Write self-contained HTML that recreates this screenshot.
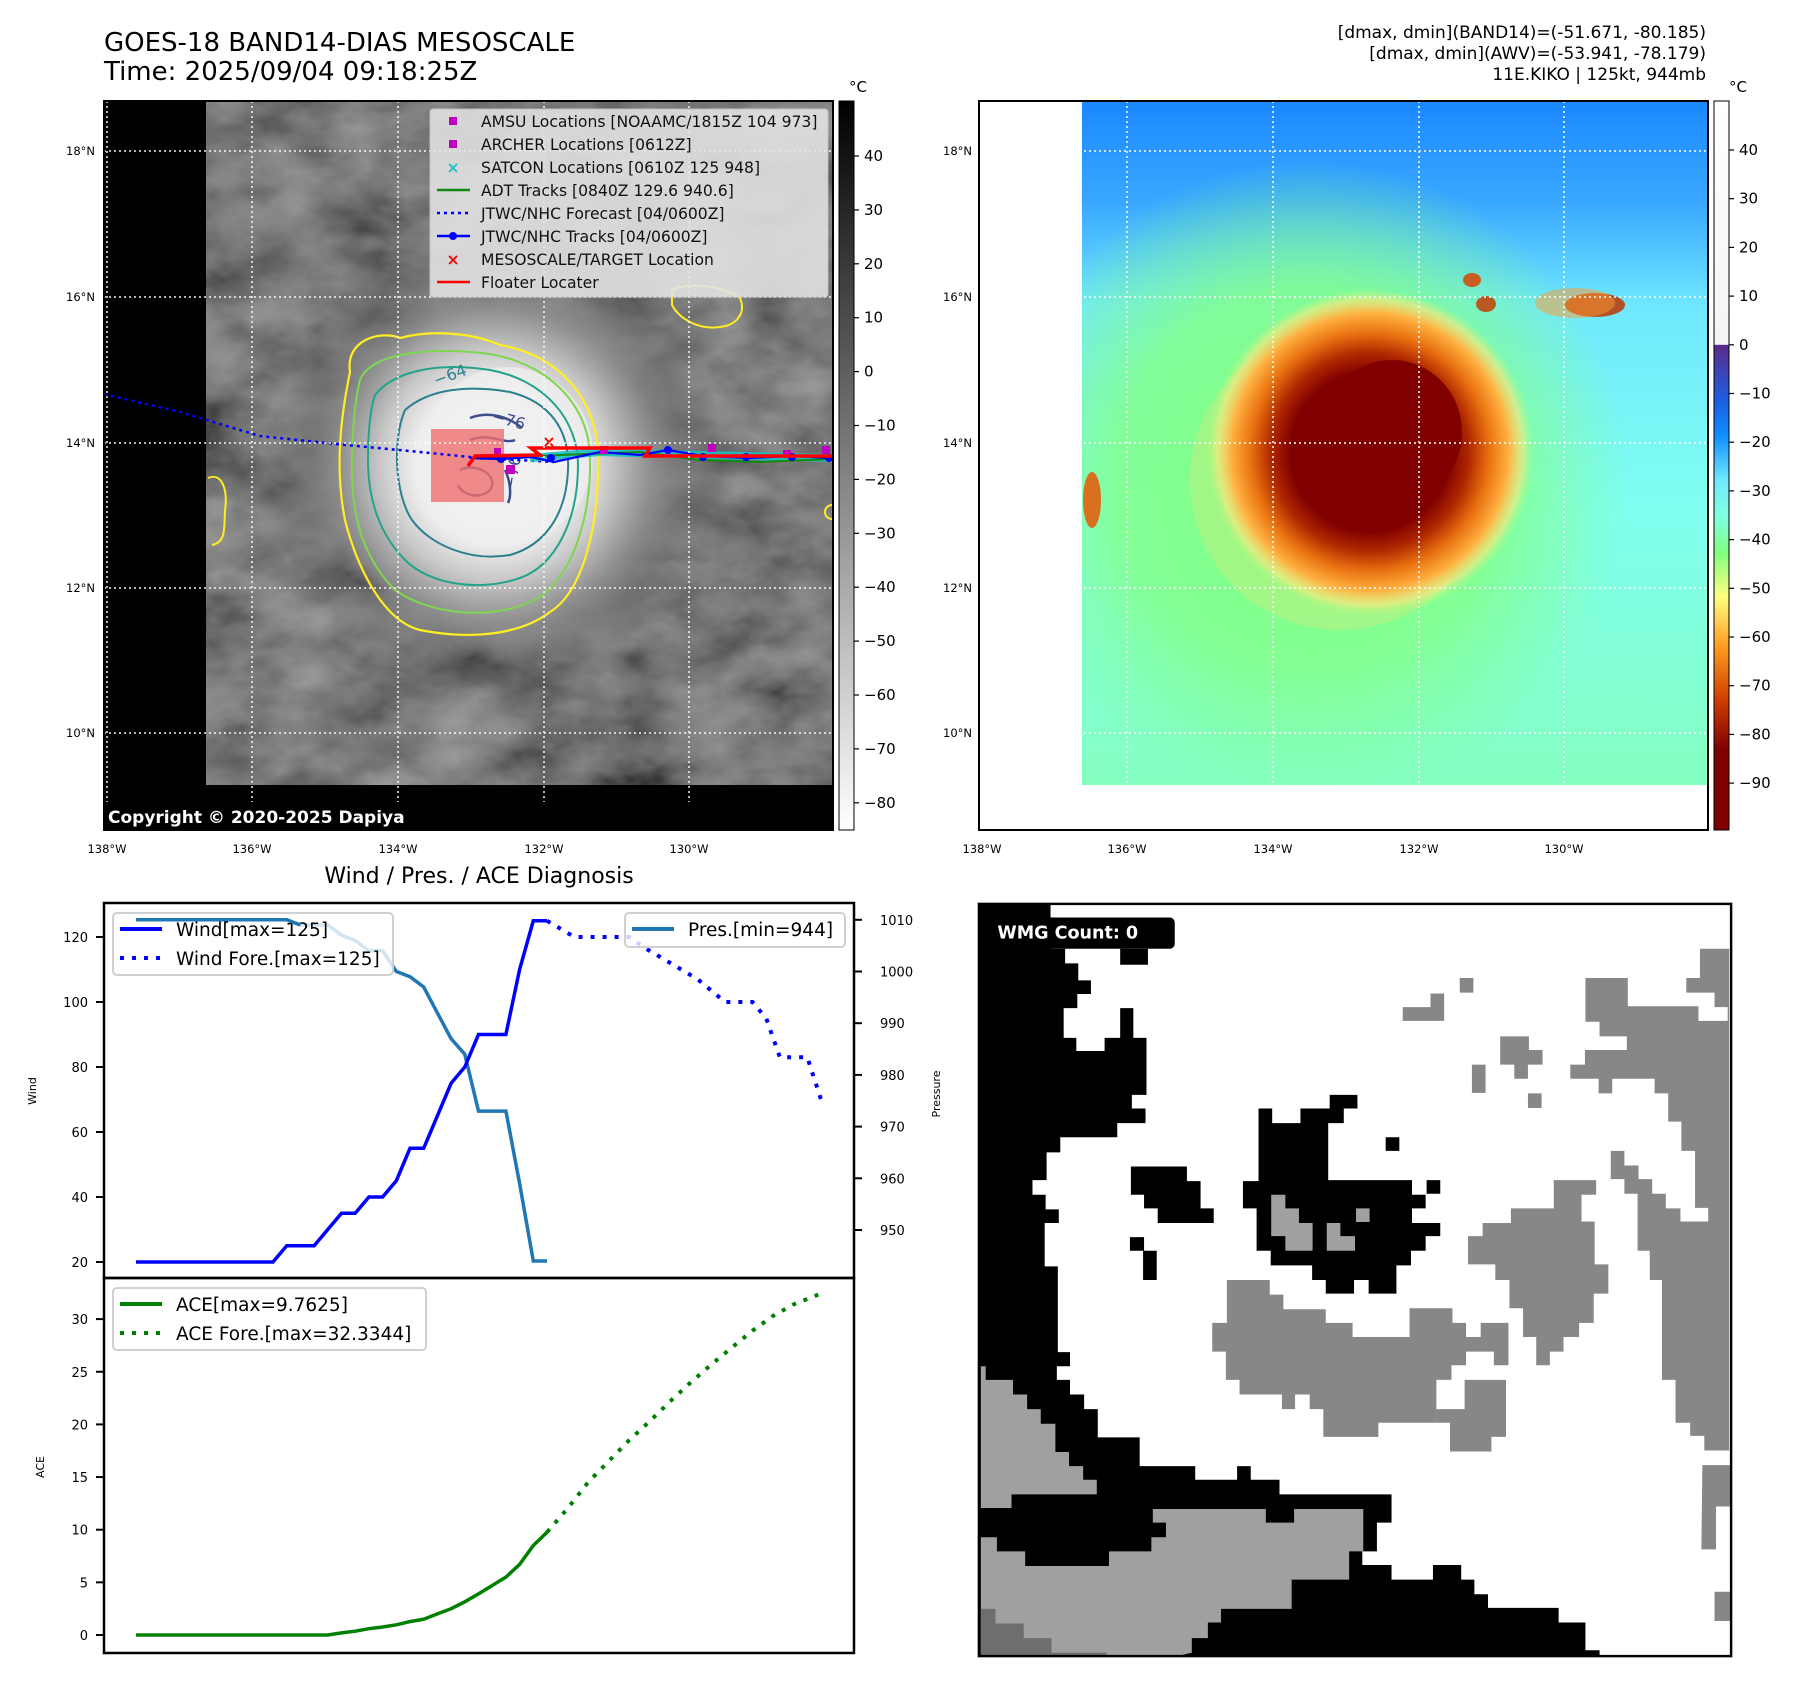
<!DOCTYPE html>
<html><head><meta charset="utf-8">
<style>
html,body{margin:0;padding:0;background:#fff;}
svg{display:block;font-family:"DejaVu Sans","Liberation Sans",sans-serif;}
</style></head>
<body>
<svg id="root" width="1797" height="1690" viewBox="0 0 1797 1690" xmlns="http://www.w3.org/2000/svg">
<defs>
  <filter id="grayNoise" x="0" y="0" width="1" height="1">
    <feTurbulence type="fractalNoise" baseFrequency="0.012 0.02" numOctaves="4" seed="7" result="n"/>
    <feColorMatrix type="matrix" values="0.33 0.33 0.33 0 0  0.33 0.33 0.33 0 0  0.33 0.33 0.33 0 0  0 0 0 0 1"/>
    <feComponentTransfer><feFuncR type="linear" slope="1.0" intercept="-0.25"/><feFuncG type="linear" slope="1.0" intercept="-0.25"/><feFuncB type="linear" slope="1.0" intercept="-0.25"/></feComponentTransfer>
  </filter>
  <radialGradient id="stormGray" cx="495" cy="465" r="230" gradientUnits="userSpaceOnUse">
    <stop offset="0" stop-color="#f6f6f6"/>
    <stop offset="0.35" stop-color="#eeeeee"/>
    <stop offset="0.5" stop-color="#c8c8c8"/>
    <stop offset="0.68" stop-color="#909090" stop-opacity="0.9"/>
    <stop offset="0.85" stop-color="#707070" stop-opacity="0.4"/>
    <stop offset="1" stop-color="#606060" stop-opacity="0"/>
  </radialGradient>
  <linearGradient id="rightBg" x1="0" y1="0" x2="0" y2="1">
    <stop offset="0" stop-color="#1a88ff"/>
    <stop offset="0.15" stop-color="#3aa8ff"/>
    <stop offset="0.3" stop-color="#70e8ff"/>
    <stop offset="0.6" stop-color="#80fff0"/>
    <stop offset="1" stop-color="#84ffc0"/>
  </linearGradient>
  <radialGradient id="greenGlow" cx="1310" cy="480" r="320" gradientUnits="userSpaceOnUse">
    <stop offset="0" stop-color="#80ff80"/>
    <stop offset="0.6" stop-color="#84ff88" stop-opacity="0.85"/>
    <stop offset="1" stop-color="#84ff90" stop-opacity="0"/>
  </radialGradient>
  <radialGradient id="stormColor" cx="1370" cy="452" r="165" gradientUnits="userSpaceOnUse">
    <stop offset="0" stop-color="#800000"/>
    <stop offset="0.48" stop-color="#800000"/>
    <stop offset="0.6" stop-color="#b02800"/>
    <stop offset="0.72" stop-color="#e87010"/>
    <stop offset="0.84" stop-color="#ffb040"/>
    <stop offset="0.93" stop-color="#ffe880" stop-opacity="0.6"/>
    <stop offset="1" stop-color="#a0ff80" stop-opacity="0"/>
  </radialGradient>
  <linearGradient id="cbGray" x1="0" y1="0" x2="0" y2="1">
    <stop offset="0" stop-color="#000"/><stop offset="1" stop-color="#fff"/>
  </linearGradient>
  <linearGradient id="cbColor" x1="0" y1="0" x2="0" y2="1">
    <stop offset="0" stop-color="#ffffff"/>
    <stop offset="0.334" stop-color="#f4f4f4"/>
    <stop offset="0.335" stop-color="#5a2a8a"/>
    <stop offset="0.41" stop-color="#1e5ee0"/>
    <stop offset="0.46" stop-color="#1090ff"/>
    <stop offset="0.52" stop-color="#70e8ff"/>
    <stop offset="0.57" stop-color="#80ffe0"/>
    <stop offset="0.62" stop-color="#80ff80"/>
    <stop offset="0.68" stop-color="#ffff80"/>
    <stop offset="0.75" stop-color="#ff9a20"/>
    <stop offset="0.82" stop-color="#d04000"/>
    <stop offset="0.89" stop-color="#800000"/>
    <stop offset="1" stop-color="#800000"/>
  </linearGradient>
  <clipPath id="leftClip"><rect x="104" y="101" width="729" height="729"/></clipPath>
  <clipPath id="rightClip"><rect x="979" y="101" width="729" height="729"/></clipPath>
</defs>

<!-- Titles -->
<text x="104" y="51" font-size="26">GOES-18 BAND14-DIAS MESOSCALE</text>
<text x="104" y="80" font-size="26">Time: 2025/09/04 09:18:25Z</text>
<g font-size="17" text-anchor="end">
  <text x="1706" y="38">[dmax, dmin](BAND14)=(-51.671, -80.185)</text>
  <text x="1706" y="59">[dmax, dmin](AWV)=(-53.941, -78.179)</text>
  <text x="1706" y="80">11E.KIKO | 125kt, 944mb</text>
</g>

<!-- LEFT MAP -->
<g id="leftMap" clip-path="url(#leftClip)">
  <rect x="104" y="101" width="729" height="729" fill="#000"/>
  <rect x="206" y="101" width="626" height="684" fill="#3a3a3a"/>
  <rect x="206" y="101" width="626" height="684" filter="url(#grayNoise)" opacity="0.8"/>
  <ellipse cx="495" cy="470" rx="240" ry="240" fill="url(#stormGray)"/>
  <ellipse cx="508" cy="455" rx="85" ry="88" fill="#f0f0f0" opacity="0.7"/>
  <!-- contours -->
  <path d="M350,372 C345,340 380,330 400,338 C430,330 470,332 500,345 C560,355 595,400 598,450 C600,520 585,590 550,612 C520,635 470,640 420,630 C380,620 355,560 345,520 C335,470 340,420 350,372 Z" fill="none" stroke="#ffee22" stroke-width="2.2"/>
  <path d="M360,380 C370,355 420,348 470,352 C540,355 588,400 590,455 C592,520 570,585 530,602 C490,620 430,615 395,590 C365,560 352,520 352,470 C352,430 355,400 360,380 Z" fill="none" stroke="#7ed650" stroke-width="2"/>
  <path d="M375,395 C395,370 440,362 490,370 C545,380 578,420 578,465 C578,520 556,565 520,578 C480,592 430,585 405,560 C380,535 368,500 368,460 C368,430 370,410 375,395 Z" fill="none" stroke="#23a48a" stroke-width="2"/>
  <path d="M405,410 C430,388 470,385 510,392 C550,402 570,430 568,470 C566,515 545,545 510,555 C470,562 430,545 412,520 C395,495 392,440 405,410 Z" fill="none" stroke="#2c7f8e" stroke-width="2"/>
  <path d="M470,418 C490,410 510,418 522,428 M470,440 C490,432 505,445 515,440 M460,470 C475,462 500,475 490,490 C480,500 462,495 458,485 M505,470 C510,480 512,495 508,503" fill="none" stroke="#3b4d8c" stroke-width="2.5"/>
  <path d="M672,290 C690,282 720,285 740,298 C746,312 738,325 720,327 C700,330 680,320 672,305 Z" fill="none" stroke="#ffee22" stroke-width="2"/>
  <path d="M208,478 C222,472 228,490 225,510 C224,530 226,542 212,545" fill="none" stroke="#ffee22" stroke-width="2"/>
  <circle cx="832" cy="512" r="7" fill="none" stroke="#ffee22" stroke-width="2"/>
  <text x="436" y="386" font-size="16" fill="#2c7f8e" transform="rotate(-20 436 386)">−64</text>
  <text x="491" y="421" font-size="16" fill="#3b4d8c" transform="rotate(15 491 421)">−76</text>
  <text x="515" y="490" font-size="16" fill="#3b4d8c" transform="rotate(-80 515 490)">−76</text>
  <rect x="431" y="429" width="73" height="73" fill="#f07070" opacity="0.8"/>
  <polyline points="104,394 180,412 260,436 346,445 420,452 480,458 554,462" fill="none" stroke="#0000ff" stroke-width="2.5" stroke-dasharray="3 4"/>
  <path d="M530,458 L600,452 L700,455 L832,458" stroke="#19c0c0" stroke-width="8" fill="none" opacity="0.9"/>
  <path d="M480,459 L560,455 L640,452 L700,460 L760,462 L832,459" stroke="#118811" stroke-width="2" fill="none"/>
  <polyline points="470,458 500,459 531,457 554,462 600,452 640,455 668,450 703,456 750,458 792,456 832,458" fill="none" stroke="#0000ff" stroke-width="2.2"/>
  <g fill="#0000ff"><circle cx="501" cy="459" r="4"/><circle cx="551" cy="458" r="4"/><circle cx="668" cy="450" r="4"/><circle cx="703" cy="457" r="4"/><circle cx="746" cy="457" r="4"/><circle cx="792" cy="457" r="4"/><circle cx="829" cy="458" r="4"/></g>
  <g fill="#c000c0"><rect x="506" y="465" width="9" height="9"/><rect x="494" y="448" width="7" height="7"/><rect x="600" y="446" width="8" height="8"/><rect x="708" y="444" width="8" height="8"/><rect x="822" y="446" width="8" height="8"/><rect x="783" y="450" width="8" height="8"/></g>
  <polyline points="468,466 475,456 540,455 531,448 570,448 650,448 645,456 832,456" fill="none" stroke="#ff0000" stroke-width="3.5"/>
  <text x="549" y="447" font-size="16" font-weight="bold" fill="#ff0000" text-anchor="middle">×</text>
  <g stroke="#fff" stroke-width="1.5" stroke-dasharray="2 3" opacity="0.95">
    <line x1="107" y1="101" x2="107" y2="830"/><line x1="252" y1="101" x2="252" y2="830"/><line x1="398" y1="101" x2="398" y2="830"/><line x1="544" y1="101" x2="544" y2="830"/><line x1="689" y1="101" x2="689" y2="830"/>
    <line x1="104" y1="151" x2="833" y2="151"/><line x1="104" y1="297" x2="833" y2="297"/><line x1="104" y1="443" x2="833" y2="443"/><line x1="104" y1="588" x2="833" y2="588"/><line x1="104" y1="733" x2="833" y2="733"/>
  </g>
  <rect x="104" y="802" width="729" height="28" fill="#000"/>
  <text x="108" y="823" font-size="17" font-weight="bold" fill="#fff">Copyright © 2020-2025 Dapiya</text>
  <g>
    <rect x="430" y="109" width="398" height="188" rx="3" fill="#e4e4e4" opacity="0.88" stroke="#ccc"/>
    <g font-size="15.6" fill="#111">
      <rect x="449" y="117" width="8" height="8" fill="#c000c0"/><text x="481" y="127">AMSU Locations [NOAAMC/1815Z 104 973]</text>
      <rect x="449" y="140" width="8" height="8" fill="#c000c0"/><text x="481" y="150">ARCHER Locations [0612Z]</text>
      <text x="453" y="173" fill="#19c0c0" text-anchor="middle" font-weight="bold">×</text><text x="481" y="173">SATCON Locations [0610Z 125 948]</text>
      <line x1="437" y1="190" x2="470" y2="190" stroke="#118811" stroke-width="2.5"/><text x="481" y="196">ADT Tracks [0840Z 129.6 940.6]</text>
      <line x1="437" y1="213" x2="470" y2="213" stroke="#0000ff" stroke-width="2.5" stroke-dasharray="3 4"/><text x="481" y="219">JTWC/NHC Forecast [04/0600Z]</text>
      <line x1="437" y1="236" x2="470" y2="236" stroke="#0000ff" stroke-width="2.5"/><circle cx="453" cy="236" r="4" fill="#0000ff"/><text x="481" y="242">JTWC/NHC Tracks [04/0600Z]</text>
      <text x="453" y="265" fill="#ff0000" text-anchor="middle" font-weight="bold">×</text><text x="481" y="265">MESOSCALE/TARGET Location</text>
      <line x1="437" y1="282" x2="470" y2="282" stroke="#ff0000" stroke-width="2.5"/><text x="481" y="288">Floater Locater</text>
    </g>
  </g>
</g>
<rect x="104" y="101" width="729" height="729" fill="none" stroke="#000" stroke-width="2"/>

<g>
  <rect x="839" y="101" width="15" height="729" fill="url(#cbGray)" stroke="#000" stroke-width="1"/>
  <text x="858" y="92" font-size="15" text-anchor="middle">°C</text>
  <g id="lcbTicks" font-size="15"></g>
</g>

<!-- RIGHT MAP -->
<g clip-path="url(#rightClip)">
  <rect x="979" y="101" width="729" height="729" fill="#fff"/>
  <rect x="1082" y="101" width="626" height="684" fill="url(#rightBg)"/>
  <rect x="1082" y="101" width="626" height="684" fill="url(#greenGlow)"/>
  <ellipse cx="1340" cy="480" rx="150" ry="150" fill="#ffe070" opacity="0.25"/>
  <ellipse cx="1370" cy="456" rx="165" ry="165" fill="url(#stormColor)"/>
  <ellipse cx="1392" cy="432" rx="70" ry="72" fill="#800000"/>
  <ellipse cx="1486" cy="304" rx="10" ry="8" fill="#c04810" opacity="0.9"/>
  <ellipse cx="1595" cy="305" rx="30" ry="12" fill="#b84010" opacity="0.9"/>
  <ellipse cx="1575" cy="303" rx="40" ry="15" fill="#ff9a30" opacity="0.5"/>
  <ellipse cx="1092" cy="500" rx="9" ry="28" fill="#e06010" opacity="0.9"/>
  <ellipse cx="1472" cy="280" rx="9" ry="7" fill="#d05010" opacity="0.9"/>
  <g stroke="#fff" stroke-width="1.5" stroke-dasharray="2 3">
    <line x1="1127" y1="101" x2="1127" y2="830"/><line x1="1273" y1="101" x2="1273" y2="830"/><line x1="1419" y1="101" x2="1419" y2="830"/><line x1="1564" y1="101" x2="1564" y2="830"/>
    <line x1="979" y1="151" x2="1708" y2="151"/><line x1="979" y1="297" x2="1708" y2="297"/><line x1="979" y1="443" x2="1708" y2="443"/><line x1="979" y1="588" x2="1708" y2="588"/><line x1="979" y1="733" x2="1708" y2="733"/>
  </g>
</g>
<rect x="979" y="101" width="729" height="729" fill="none" stroke="#000" stroke-width="2"/>

<g>
  <rect x="1714" y="101" width="15" height="729" fill="url(#cbColor)" stroke="#000" stroke-width="1"/>
  <text x="1738" y="92" font-size="15" text-anchor="middle">°C</text>
  <g id="rcbTicks" font-size="15"></g>
</g>

<g font-size="11.5">
  <g text-anchor="end"><text x="95" y="155">18°N</text><text x="95" y="301">16°N</text><text x="95" y="447">14°N</text><text x="95" y="592">12°N</text><text x="95" y="737">10°N</text>
  <text x="972" y="155">18°N</text><text x="972" y="301">16°N</text><text x="972" y="447">14°N</text><text x="972" y="592">12°N</text><text x="972" y="737">10°N</text></g>
  <g text-anchor="middle"><text x="107" y="853">138°W</text><text x="252" y="853">136°W</text><text x="398" y="853">134°W</text><text x="544" y="853">132°W</text><text x="689" y="853">130°W</text>
  <text x="982" y="853">138°W</text><text x="1127" y="853">136°W</text><text x="1273" y="853">134°W</text><text x="1419" y="853">132°W</text><text x="1564" y="853">130°W</text></g>
</g>

<text x="479" y="883" font-size="22" text-anchor="middle">Wind / Pres. / ACE Diagnosis</text>
<g id="chart"></g>

<g transform="translate(975,900) scale(0.48718)">
  <rect x="8" y="8" width="1544" height="1544" fill="#fff"/>
  <path fill="#000" d="M8,8 L155,8 L155,100 L185,100 L185,130 L212,130 L212,165 L238,165 L238,193 L210,193 L210,222 L182,222 L182,283 L208,283 L208,310 L266,310 L266,283 L298,283 L298,222 L325,222 L325,283 L352,283 L352,400 L322,400 L322,428 L350,428 L350,458 L292,458 L292,487 L175,487 L175,518 L147,518 L147,575 L118,575 L118,605 L145,605 L145,635 L172,635 L172,663 L143,663 L143,752 L170,752 L170,928 L195,928 L195,957 L168,957 L168,985 L195,985 L195,1015 L224,1015 L224,1045 L252,1045 L252,1103 L338,1103 L338,1162 L452,1162 L452,1190 L538,1190 L538,1162 L566,1162 L566,1190 L625,1190 L625,1220 L855,1220 L855,1278 L825,1278 L825,1337 L795,1337 L795,1365 L855,1365 L855,1395 L940,1395 L940,1365 L998,1365 L998,1395 L1025,1395 L1025,1425 L1053,1425 L1053,1453 L1198,1453 L1198,1483 L1253,1483 L1253,1540 L1282,1540 L1282,1552 L8,1552 Z"/>
  <path fill="#000" d="M298,100 L355,100 L355,133 L298,133 Z"/>
  <path fill="#a0a0a0" d="M12,957 L22,957 L22,985 L78,985 L78,1015 L107,1015 L107,1045 L135,1045 L135,1075 L165,1075 L165,1133 L193,1133 L193,1162 L222,1162 L222,1190 L250,1190 L250,1220 L75,1220 L75,1248 L12,1248 Z"/>
  <path fill="#a0a0a0" d="M12,1308 L45,1308 L45,1337 L103,1337 L103,1367 L275,1367 L275,1337 L362,1337 L362,1308 L392,1308 L392,1278 L365,1278 L365,1250 L597,1250 L597,1278 L655,1278 L655,1250 L797,1250 L797,1337 L768,1337 L768,1395 L650,1395 L650,1455 L505,1455 L505,1483 L478,1483 L478,1515 L445,1515 L445,1545 L415,1552 L12,1552 Z"/>
  <path fill="#6e6e6e" d="M12,1455 L42,1455 L42,1485 L100,1485 L100,1515 L157,1515 L157,1545 L270,1545 L270,1552 L12,1552 Z"/>
  <path fill="#000" d="M582,428 L610,428 L610,458 L668,458 L668,428 L728,428 L728,400 L785,400 L785,428 L757,428 L757,458 L725,458 L725,575 L897,575 L897,605 L925,605 L925,633 L897,633 L897,663 L955,663 L955,690 L925,690 L925,720 L895,720 L895,750 L865,750 L865,808 L808,808 L808,780 L778,780 L778,808 L720,808 L720,780 L692,780 L692,750 L607,750 L607,720 L578,720 L578,633 L550,633 L550,577 L582,577 Z"/>
  <path fill="#a0a0a0" d="M608,605 L637,605 L637,633 L665,633 L665,663 L693,663 L693,720 L637,720 L637,690 L608,690 Z M722,663 L750,663 L750,690 L780,690 L780,720 L722,720 Z M782,633 L810,633 L810,661 L782,661 Z"/>
  <path fill="#000" d="M843,487 h28 v28 h-28 Z M927,575 h28 v28 h-28 Z M320,547 L435,547 L435,577 L463,577 L463,633 L490,633 L490,663 L375,663 L375,633 L347,633 L347,605 L320,605 Z M318,692 L347,692 L347,720 L373,720 L373,780 L345,780 L345,720 L318,720 Z"/>
  <path fill="#878787" d="M517,780 L605,780 L605,810 L633,810 L633,840 L720,840 L720,868 L775,868 L775,897 L892,897 L892,838 L980,838 L980,868 L1008,868 L1008,897 L1038,897 L1038,868 L1095,868 L1095,955 L1065,955 L1065,927 L1008,927 L1008,955 L978,955 L978,985 L947,985 L947,1073 L828,1073 L828,1102 L715,1102 L715,1045 L687,1045 L687,1015 L657,1015 L657,1045 L630,1045 L630,1015 L543,1015 L543,985 L515,985 L515,927 L487,927 L487,868 L517,868 Z"/>
  <path fill="#878787" d="M1005,985 L1090,985 L1090,1102 L1060,1102 L1060,1132 L975,1132 L975,1073 L947,1073 L947,1045 L1005,1045 Z"/>
  <path fill="#878787" d="M1188,575 L1275,575 L1275,605 L1245,605 L1245,660 L1272,660 L1272,748 L1300,748 L1300,808 L1270,808 L1270,868 L1240,868 L1240,897 L1208,897 L1208,927 L1180,927 L1180,955 L1152,955 L1152,897 L1125,897 L1125,838 L1097,838 L1097,780 L1068,780 L1068,748 L1012,748 L1012,690 L1042,690 L1042,663 L1100,663 L1100,633 L1188,633 Z"/>
  <path fill="#878787" d="M1253,160 L1340,160 L1340,218 L1485,218 L1485,248 L1545,248 L1545,220 L1518,220 L1518,190 L1460,190 L1460,160 L1488,160 L1488,100 L1548,100 L1548,1130 L1497,1130 L1497,1100 L1468,1100 L1468,1073 L1438,1073 L1438,985 L1410,985 L1410,780 L1385,780 L1385,720 L1360,720 L1360,603 L1333,603 L1333,573 L1305,573 L1305,515 L1333,515 L1333,545 L1362,545 L1362,573 L1390,573 L1390,603 L1418,603 L1418,633 L1448,633 L1448,660 L1505,660 L1505,632 L1478,632 L1478,515 L1450,515 L1450,455 L1423,455 L1423,397 L1395,397 L1395,367 L1308,367 L1308,397 L1280,397 L1280,367 L1222,367 L1222,338 L1252,338 L1252,308 L1338,308 L1338,280 L1282,280 L1282,250 L1253,250 Z"/>
  <path fill="#878787" d="M1493,1160 h58 v85 h-30 v88 h-30 Z M1518,1420 h35 v60 h-35 Z M995,160 h28 v30 h-28 Z M878,220 L935,220 L935,192 L963,192 L963,248 L878,248 Z M1078,280 L1137,280 L1137,308 L1165,308 L1165,338 L1135,338 L1135,367 L1107,367 L1107,338 L1078,338 Z M1020,338 h28 v58 h-28 Z M1135,397 h28 v30 h-28 Z"/>
  <rect x="8" y="8" width="1544" height="1544" fill="none" stroke="#000" stroke-width="5"/>
  <rect x="30" y="36" width="380" height="64" rx="10" fill="#000"/>
  <text x="46" y="79" font-size="36" font-weight="bold" fill="#fff">WMG Count: 0</text>
</g>
</svg>

<script>
// ---- data ----
const windIdx = [0,1,2,3,4,5,6,7,8,9,10,11,12,13,14,15,16,17,18,19,20,21,22,23,24,25,26,27,28,29,30];
const windVals = [20,20,20,20,20,20,20,20,20,20,20,25,25,25,30,35,35,40,40,45,55,55,65,75,80,90,90,90,110,125,125];
const presVals = [1010,1010,1010,1010,1010,1010,1010,1010,1010,1010,1010,1010,1009,1009,1009,1007,1006,1004,1004,1000,999,997,992,987,984,973,973,973,959,944,944];
const windForeIdx = [30,32,34,36,37,39,41,43,45,46,47,49,50];
const windForeVals = [125,120,120,120,117,112,107,100,100,95,83,83,70];
const aceVals = [0,0,0,0,0,0,0,0,0,0,0,0,0,0,0,0.2,0.36,0.6,0.76,0.97,1.27,1.5,2.0,2.5,3.15,3.9,4.7,5.5,6.7,8.5,9.76];
const aceForeIdx = [30,31.5,33,34.5,36,37.5,39,40.5,42,43.5,45,46.5,48,49.8];
const aceForeVals = [9.76,12,14.5,16.5,18.5,20.3,22.2,24,25.7,27.3,28.9,30.3,31.4,32.33];
const windTicks = [20,40,60,80,100,120];
const presTicks = [950,960,970,980,990,1000,1010];
const aceTicks = [0,5,10,15,20,25,30];
const leftCbTicks = [40,30,20,10,0,-10,-20,-30,-40,-50,-60,-70,-80];
const rightCbTicks = [40,30,20,10,0,-10,-20,-30,-40,-50,-60,-70,-80,-90];

const NS = 'http://www.w3.org/2000/svg';
const xS = i => 136 + i * 13.7;
const wY = v => 1262 - (v - 20) * 3.25;
const pY = v => 1230 - (v - 950) * 5.17;
const aY = v => 1635 - v * 10.53;
const lcbY = v => 156 + (40 - v) * 5.39;
const rcbY = v => 150 + (40 - v) * 4.87;

function mk(tag, attrs, parent) {
  const e = document.createElementNS(NS, tag);
  for (const k in attrs) e.setAttribute(k, attrs[k]);
  parent.appendChild(e);
  return e;
}
function lbl(v) { return v < 0 ? '\u2212' + Math.abs(v) : String(v); }

const chart = document.getElementById('chart');
let f1 = mk('rect', {x:104, y:903, width:750, height:375, fill:'none', stroke:'#000', 'stroke-width':2.5}, chart);


let f2 = mk('rect', {x:104, y:1278, width:750, height:375, fill:'none', stroke:'#000', 'stroke-width':2.5}, chart);



windTicks.forEach(v => {
  const y = wY(v);
  const t = mk('line', {x1:96, y1:y, x2:104, y2:y, stroke:'#000', 'stroke-width':2}, chart);
  
  
  const tx = mk('text', {x:88, y:y+5, 'font-size':13, 'text-anchor':'end'}, chart);
  tx.textContent = v;
  
  
});
presTicks.forEach(v => {
  const y = pY(v);
  const t = mk('line', {x1:854, y1:y, x2:862, y2:y, stroke:'#000', 'stroke-width':2}, chart);
  
  
  const tx = mk('text', {x:880, y:y+5, 'font-size':13}, chart);
  tx.textContent = v;
  
  
});
aceTicks.forEach(v => {
  const y = aY(v);
  const t = mk('line', {x1:96, y1:y, x2:104, y2:y, stroke:'#000', 'stroke-width':2}, chart);
  
  
  const tx = mk('text', {x:88, y:y+5, 'font-size':13, 'text-anchor':'end'}, chart);
  tx.textContent = v;
  
  
});
let yt1 = mk('text', {x:36, y:1091, 'font-size':11, 'text-anchor':'middle', transform:'rotate(-90 36 1091)'}, chart);
yt1.textContent = 'Wind';


let yt2 = mk('text', {x:940, y:1094, 'font-size':11, 'text-anchor':'middle', transform:'rotate(-90 940 1094)'}, chart);
yt2.textContent = 'Pressure';


let yt3 = mk('text', {x:44, y:1467, 'font-size':11, 'text-anchor':'middle', transform:'rotate(-90 44 1467)'}, chart);
yt3.textContent = 'ACE';



function pts(idx, vals, yf) { return idx.map((i, k) => xS(i).toFixed(1) + ',' + yf(vals[k]).toFixed(1)).join(' '); }

let pl = mk('polyline', {points: pts(windIdx, presVals, pY), fill:'none', stroke:'#1f77b4', 'stroke-width':3.5}, chart);


let wl = mk('polyline', {points: pts(windIdx, windVals, wY), fill:'none', stroke:'#0000ff', 'stroke-width':3.5}, chart);


let wf = mk('polyline', {points: pts(windForeIdx, windForeVals, wY), fill:'none', stroke:'#0000ff', 'stroke-width':4, 'stroke-dasharray':'4 8'}, chart);


let al = mk('polyline', {points: pts(windIdx, aceVals, aY), fill:'none', stroke:'#008000', 'stroke-width':3.5}, chart);


let af = mk('polyline', {points: pts(aceForeIdx, aceForeVals, aY), fill:'none', stroke:'#008000', 'stroke-width':4, 'stroke-dasharray':'4 8'}, chart);



function legend(x, y, w, h, rows, name) {
  const g = mk('g', {}, chart);
  
  
  mk('rect', {x:x, y:y, width:w, height:h, rx:4, fill:'#fff', 'fill-opacity':0.8, stroke:'#d0d0d0', 'stroke-width':2}, g);
  rows.forEach((r, k) => {
    const cy = y + 16 + k * 29;
    mk('line', {x1:x+7, y1:cy, x2:x+49, y2:cy, stroke:r[1], 'stroke-width':4, 'stroke-dasharray': r[2] ? '4 8' : 'none'}, g);
    const t = mk('text', {x:x+63, y:cy+7, 'font-size':18.5}, g);
    t.textContent = r[0];
  });
}
legend(113, 913, 280, 62, [['Wind[max=125]','#0000ff',false],['Wind Fore.[max=125]','#0000ff',true]], 'wind-legend');
legend(625, 913, 220, 34, [['Pres.[min=944]','#1f77b4',false]], 'pressure-legend');
legend(113, 1288, 313, 62, [['ACE[max=9.7625]','#008000',false],['ACE Fore.[max=32.3344]','#008000',true]], 'ace-legend');
let pl2 = mk('polyline', {points: pts(windIdx.slice(0, 13), presVals.slice(0, 13), pY), fill:'none', stroke:'#1f77b4', 'stroke-width':3.5}, chart);



const lg = document.getElementById('lcbTicks');
leftCbTicks.forEach(v => {
  const y = lcbY(v);
  mk('line', {x1:854, y1:y, x2:859, y2:y, stroke:'#000', 'stroke-width':1.2}, lg);
  const t = mk('text', {x:864, y:y+5}, lg);
  t.textContent = lbl(v);
  
  
});
const rg = document.getElementById('rcbTicks');
rightCbTicks.forEach(v => {
  const y = rcbY(v);
  mk('line', {x1:1729, y1:y, x2:1734, y2:y, stroke:'#000', 'stroke-width':1.2}, rg);
  const t = mk('text', {x:1739, y:y+5}, rg);
  t.textContent = lbl(v);
  
  
});
</script>
</body></html>
